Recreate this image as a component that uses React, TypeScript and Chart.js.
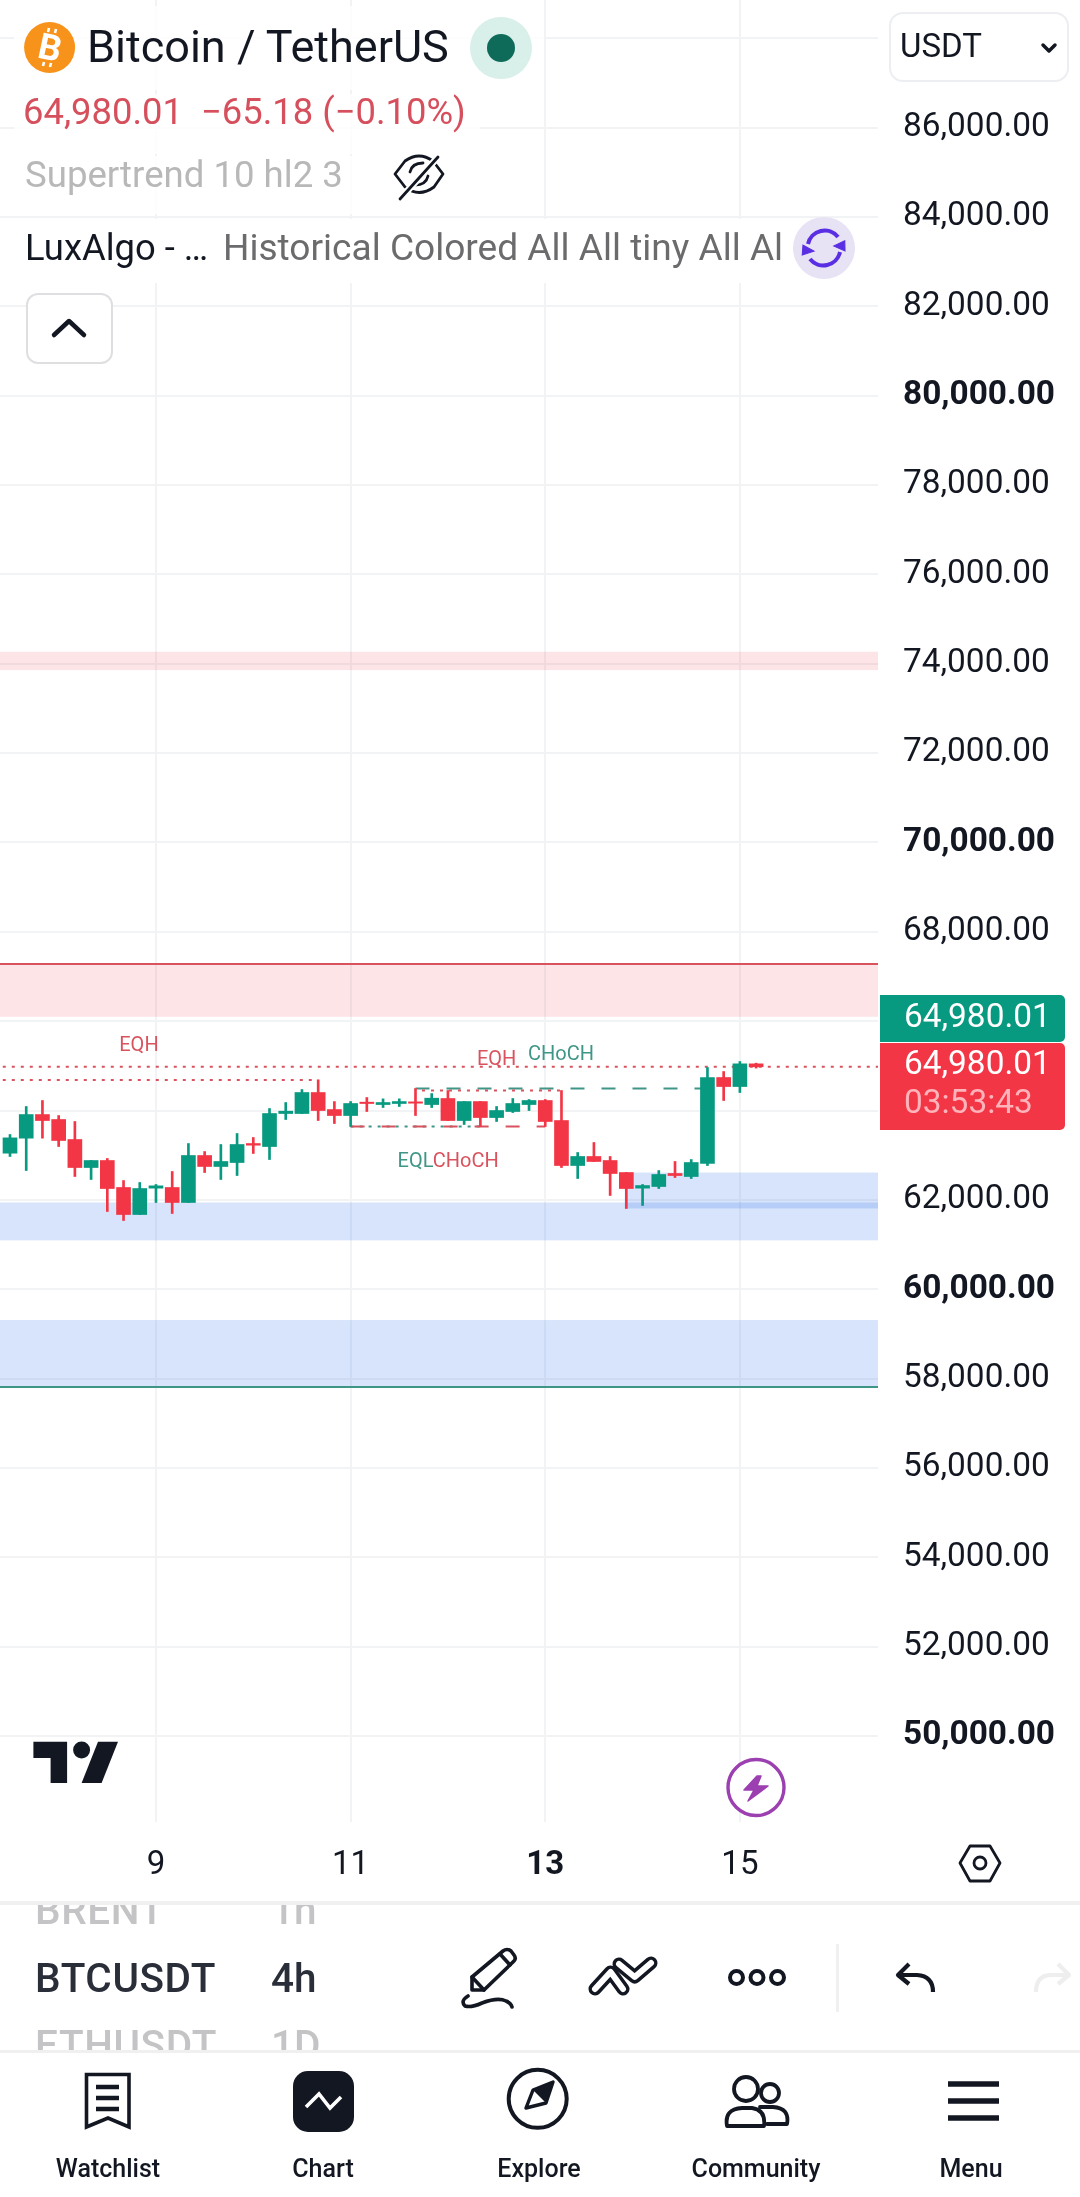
import React, { useEffect, useRef } from "react";
import { Chart, registerables } from "chart.js";

Chart.register(...registerables);

const barIndex = Array.from({ length: 47 }, (_, i) => i);
const opens = [63045,63381,63910,63799,63351,62724,62881,62277,61672,62262,62277,61941,62993,62747,62836,63261,63194,63933,63933,64403,64022,63888,64187,64134,64157,64194,64134,64269,63776,64201,63843,63978,64134,64224,63776,62769,62971,62881,62612,62262,62299,62590,62523,62814,64739,64537,65045];
const highs = [63463,64090,64224,63888,63754,62881,62926,62433,62389,62344,62635,63261,63082,63239,63485,63396,64045,64179,64470,64686,64201,64201,64291,64261,64261,64492,64380,64448,64201,64201,64090,64269,64246,64246,64448,63060,63284,62971,62612,62344,62657,62859,62903,64962,64873,65097,65060];
const lows = [62971,62657,63381,63194,62523,62456,61740,61538,61672,61941,61695,61941,62612,62456,62545,63038,62903,63799,63933,63776,63709,63642,63978,64067,64090,63888,64067,63776,63687,63642,63754,63955,64000,63642,62724,62478,62859,62098,61807,61874,62254,62500,62478,62769,64224,64403,64950];
const closes = [63388,63910,63776,63329,62724,62881,62254,61672,62254,62314,61941,62993,62747,62859,63239,63224,63933,63985,64403,64000,63888,64157,64157,64179,64201,64164,64276,63776,64201,63843,64000,64157,64224,63754,62769,62971,62859,62590,62254,62321,62568,62545,62836,64739,64537,65045,64980];

const dayTickBars = [9, 21, 33, 45];
const dayLabels = ["9", "11", "13", "15"];
const boldDay = "13";
const priceTicks = [50000,52000,54000,56000,58000,60000,62000,64000,66000,68000,70000,72000,74000,76000,78000,80000,82000,84000,86000,88000];
const hiddenPriceLabels = [64000, 66000, 88000];

const bandFromBars = [-1, -1, 37.9, -1, -1];
const bandToBars = [54, 54, 54, 54, 54];
const bandHighs = [74270, 67278, 62612, 61941, 59310];
const bandLows = [73860, 66098, 61807, 61093, 57810];
const bandKinds = ["red", "red", "blue", "blue", "blue"];

const lastPrice = 64980;
const resistanceTop = 67278;
const supportBottom = 57810;
const eqhLeft = { from: -1, to: 19, price: 64686 };
const eqhRight = { from: 25.4, to: 34, price: 64448 };
const chochUp = { from: 25, to: 43, price: 64492 };
const chochDown = { from: 21, to: 33, price: 63642 };
const eqlLine = { from: 21, to: 29, price: 63642 };

const chartTexts = [
  { text: "EQH", bar: 7.95, price: 65450, kind: "red" },
  { text: "EQH", bar: 30.0, price: 65130, kind: "red" },
  { text: "CHoCH", bar: 33.97, price: 65240, kind: "green" },
  { text: "EQL", bar: 25.0, price: 62850, kind: "green" },
  { text: "CHoCH", bar: 28.1, price: 62850, kind: "red" },
];

const UP = "#089981";
const DOWN = "#f23645";
const LINE_RED = "#d9535f";
const LINE_GREEN = "#3f9687";
const GRID = "#f2f3f5";
const INK = "#131722";
const FONT = "Roboto";

const seg = (s: { from: number; to: number; price: number }) => [
  { x: s.from, y: s.price },
  { x: s.to, y: s.price },
];

const overlayPlugin = {
  id: "overlay",
  beforeDatasetsDraw(chart: any) {
    const { ctx, scales } = chart;
    const xs = scales.x;
    const ys = scales.y;
    ctx.save();
    ctx.beginPath();
    ctx.rect(chart.chartArea.left, chart.chartArea.top, chart.chartArea.width, chart.chartArea.height);
    ctx.clip();
    bandHighs.forEach((hi, i) => {
      const x0 = xs.getPixelForValue(bandFromBars[i]);
      const x1 = xs.getPixelForValue(bandToBars[i]);
      const y0 = ys.getPixelForValue(hi);
      const y1 = ys.getPixelForValue(bandLows[i]);
      ctx.fillStyle = bandKinds[i] === "red" ? "rgba(242,54,69,0.13)" : "rgba(45,110,235,0.19)";
      ctx.fillRect(x0, y0, x1 - x0, y1 - y0);
    });
    ctx.restore();
  },
  afterDatasetsDraw(chart: any) {
    const { ctx, scales } = chart;
    ctx.save();
    ctx.font = `20px ${FONT}`;
    ctx.textAlign = "center";
    ctx.textBaseline = "middle";
    chartTexts.forEach((t) => {
      ctx.fillStyle = t.kind === "red" ? LINE_RED : LINE_GREEN;
      ctx.fillText(t.text, scales.x.getPixelForValue(t.bar), scales.y.getPixelForValue(t.price));
    });
    ctx.restore();
  },
};

function lineDs(data: any[], color: string, dash: number[], width = 2) {
  return {
    type: "line" as const,
    data,
    borderColor: color,
    borderWidth: width,
    borderDash: dash,
    pointRadius: 0,
    tension: 0,
    order: 5,
  };
}

function T(p: { x: number; b: number; s: number; c?: string; w?: number; anchor?: string; children: any; extra?: any }) {
  const transform = p.anchor === "middle" ? "translateX(-50%)" : undefined;
  return (
    <span
      style={{
        position: "absolute",
        left: p.x,
        top: p.b - 0.841 * p.s,
        fontSize: p.s,
        lineHeight: 1,
        fontFamily: FONT,
        color: p.c || INK,
        fontWeight: p.w || 400,
        whiteSpace: "pre",
        transform,
        ...(p.extra || {}),
      }}
    >
      {p.children}
    </span>
  );
}

function Box(p: { x: number; y: number; w: number; h: number; bg: string; r?: any; border?: string }) {
  return (
    <div
      style={{
        position: "absolute",
        left: p.x,
        top: p.y,
        width: p.w,
        height: p.h,
        background: p.bg,
        borderRadius: p.r || 0,
        border: p.border,
        boxSizing: "border-box",
      }}
    />
  );
}

function Icons() {
  const st = { fill: "none", stroke: INK, strokeWidth: 4, strokeLinecap: "round" as const, strokeLinejoin: "round" as const };
  return (
    <svg width={1080} height={2197} style={{ position: "absolute", left: 0, top: 0, pointerEvents: "none" }}>
      <circle cx={501} cy={48} r={31} fill="#d9efea" />
      <circle cx={501} cy={48} r={14} fill="#0e6b59" />
      <circle cx={49.6} cy={47.5} r={25.5} fill="#f7931a" />
      <path d="M48 32 L49 28 M55 33 L56 29 M44 62 L43 66 M51 63 L50 67" stroke="#fff" strokeWidth={2.6} fill="none" />
      <g fill="none" stroke={INK} strokeWidth={2.8} strokeLinecap="round" strokeLinejoin="round">
        <path d="M395 174 L405 161 Q419 151 433 161 L443 174 L434 187 Q419 198 405 187 Z" />
        <path d="M410 172 Q412 163 423 163 M428 176 Q426 185 415 185" />
        <path d="M400 199 L438 157" stroke="#fff" strokeWidth={7} />
        <path d="M400 199 L438 157" />
      </g>
      <circle cx={824} cy={248} r={31} fill="#e8e2f5" />
      <g fill="none" stroke="#5a2fe3" strokeWidth={4}>
        <path d="M808 244 A17 17 0 0 1 838 237" />
        <path d="M840 252 A17 17 0 0 1 810 259" />
        <path d="M844 240 L834 247 L846 250 Z" fill="#5a2fe3" strokeWidth={1} transform="rotate(10 840 245)" />
        <path d="M803 256 L814 250 L802 246 Z" fill="#5a2fe3" strokeWidth={1} transform="rotate(10 808 251)" />
      </g>
      <path d="M54 335 L69 321 L84 335" {...st} strokeWidth={4.5} />
      <path d="M1043 45 L1049 51 L1055 45" {...st} strokeWidth={3.5} />
      <path d="M33.4 1741.7 H67.1 V1783 H50.6 V1758 H33.4 Z" fill={INK} />
      <circle cx={81.6} cy={1750} r={8.5} fill={INK} />
      <path d="M98 1741.7 H118 L101.6 1783 H81.6 Z" fill={INK} />
      <circle cx={756} cy={1787.5} r={28} fill="#fff" stroke="#9c3fb0" strokeWidth={3.4} />
      <path d="M757 1776 L744 1790 L754 1790 L748 1801 L768 1786 L757 1786 L761 1776 Z" fill="#9c3fb0" stroke="#9c3fb0" strokeWidth={1.5} strokeLinejoin="round" />
      <path d="M970 1846 H990 L1000 1863 L990 1881 H970 L960 1863 Z" {...st} strokeWidth={2.8} />
      <circle cx={980} cy={1863} r={6} {...st} strokeWidth={2.8} />
      <g {...st} strokeWidth={3.6}>
        <path d="M472 1990 V1977 L503 1951 Q507 1948 511 1951 L514 1955 Q517 1959 513 1962 L484 1990 Z" />
        <path d="M472 1977 L484 1990" />
        <path d="M500 1954 L510 1965" />
        <path d="M468 1996 Q460 2001 465 2006 Q471 2008 482 2003 Q498 1997 506 2001 Q511 2003 512 2007" />
      </g>
      <path d="M595 1989 L610.6 1972 L623 1989" {...st} strokeWidth={13} />
      <path d="M595 1989 L610.6 1972 L623 1989" {...st} stroke="#fff" strokeWidth={6} />
      <path d="M619 1964 L634.7 1977 L651 1963" {...st} strokeWidth={13} />
      <path d="M619 1964 L634.7 1977 L651 1963" {...st} stroke="#fff" strokeWidth={6} />
      <g {...st} strokeWidth={4}>
        <circle cx={736.5} cy={1977.5} r={6.5} />
        <circle cx={757} cy={1977.5} r={6.5} />
        <circle cx={777.5} cy={1977.5} r={6.5} />
      </g>
      <path d="M909 1964 L898 1975 L909 1984 M899 1975 H917 Q933 1976 933 1992" {...st} strokeLinecap="butt" strokeWidth={4.2} />
      <path d="M1058 1964 L1069 1975 L1058 1984 M1068 1975 H1050 Q1036 1976 1036 1992" {...st} stroke="#eeeeee" strokeLinecap="butt" strokeWidth={4.2} />
      <path d="M86.5 2074.5 H129 V2127 L108 2118 L86.5 2127 Z" {...st} strokeLinecap="butt" strokeLinejoin="miter" strokeWidth={3.6} />
      <path d="M96 2087 H119 M96 2098 H119 M96 2109 H119" {...st} strokeLinecap="butt" strokeWidth={4.4} />
      <rect x={293} y={2071} width={61} height={61} rx={15} fill={INK} />
      <path d="M306 2107 L319 2094 L330 2108 L341 2097" fill="none" stroke="#fff" strokeWidth={3.6} />
      <circle cx={537.7} cy={2098.8} r={29} {...st} strokeWidth={4} />
      <path d="M526 2108 L533 2090 L553 2082 L546 2103 Z" {...st} strokeWidth={3.4} />
      <path d="M533 2090 L553 2082 L546 2103 Z" fill={INK} />
      <g {...st} strokeWidth={3.8}>
        <ellipse cx={746} cy={2089} rx={12} ry={12} />
        <circle cx={770} cy={2093} r={9} />
        <path d="M727 2126 Q724 2109 742 2108 H752 Q766 2110 764 2126 Z" />
        <path d="M767 2124 H787 Q790 2108 773 2107 H760" />
      </g>
      <path d="M948 2084 H999 M948 2101 H999 M948 2118 H999" {...st} strokeLinecap="butt" strokeWidth={5.4} />
    </svg>
  );
}

export default function App() {
  const ref = useRef<HTMLCanvasElement | null>(null);
  useEffect(() => {
    document.body.style.margin = "0";
    const chart = new Chart(ref.current as HTMLCanvasElement, {
      type: "bar",
      data: {
        datasets: [
          {
            label: "body",
            data: barIndex.map((i) => ({ x: i, y: [opens[i], closes[i]] })),
            backgroundColor: barIndex.map((i) => (closes[i] >= opens[i] ? UP : DOWN)),
            barThickness: 14,
            grouped: false,
            order: 1,
          },
          {
            label: "wick",
            data: barIndex.map((i) => ({ x: i, y: [lows[i], highs[i]] })),
            backgroundColor: barIndex.map((i) => (closes[i] >= opens[i] ? UP : DOWN)),
            barThickness: 2,
            grouped: false,
            order: 2,
          },
          lineDs([{ x: -1, y: lastPrice }, { x: 54, y: lastPrice }], LINE_RED, [3, 6]),
          lineDs(seg(eqhLeft), LINE_RED, [3, 6]),
          lineDs(seg(eqhRight), LINE_RED, [3, 6]),
          lineDs(seg(chochUp), LINE_GREEN, [14, 17]),
          lineDs(seg(chochDown), LINE_RED, [14, 17]),
          lineDs(seg(eqlLine), LINE_GREEN, [3, 6]),
          lineDs([{ x: -1, y: resistanceTop }, { x: 54, y: resistanceTop }], LINE_RED, []),
          lineDs([{ x: -1, y: supportBottom }, { x: 54, y: supportBottom }], LINE_GREEN, []),
        ] as any,
      },
      options: {
        animation: false,
        responsive: false,
        devicePixelRatio: 1,
        layout: { padding: 0, autoPadding: false },
        plugins: { legend: { display: false }, tooltip: { enabled: false } },
        scales: {
          x: {
            type: "linear",
            min: -0.6165,
            max: 53.515,
            offset: false,
            grid: { color: GRID, lineWidth: 2, drawTicks: false, offset: false },
            border: { display: false },
            afterBuildTicks: (s: any) => {
              s.ticks = dayTickBars.map((v) => ({ value: v }));
            },
            afterFit: (s: any) => {
              s.height = 78;
              s.paddingLeft = 0;
              s.paddingRight = 0;
            },
            ticks: {
              autoSkip: false,
              maxRotation: 0,
              padding: 24,
              color: INK,
              font: (c: any) => ({
                family: FONT,
                size: 33,
                weight: dayLabels[dayTickBars.indexOf(c.tick?.value)] === boldDay ? "700" : "400",
              }),
              callback: (v: any) => dayLabels[dayTickBars.indexOf(v)] ?? "",
            },
          },
          y: {
            type: "linear",
            position: "right",
            min: 48073,
            max: 88860,
            beginAtZero: false,
            grid: { color: GRID, lineWidth: 2, drawTicks: false },
            border: { display: false },
            afterBuildTicks: (s: any) => {
              s.ticks = priceTicks.map((v) => ({ value: v }));
            },
            afterFit: (s: any) => {
              s.width = 202;
              s.paddingTop = 0;
              s.paddingBottom = 0;
            },
            ticks: {
              autoSkip: false,
              padding: 25,
              crossAlign: "near",
              labelOffset: 0,
              color: INK,
              font: (c: any) => ({
                family: FONT,
                size: 33.4,
                weight: c.tick && c.tick.value % 10000 === 0 ? "700" : "400",
              }),
              callback: (v: any) =>
                hiddenPriceLabels.includes(v)
                  ? ""
                  : Number(v).toLocaleString("en-US", { minimumFractionDigits: 2, maximumFractionDigits: 2 }),
            },
          },
        },
      } as any,
      plugins: [overlayPlugin as any],
    });
    return () => chart.destroy();
  }, []);

  return (
    <div style={{ position: "absolute", left: 0, top: 0, width: 1080, height: 2197, overflow: "hidden", background: "#fff" }}>
      <canvas ref={ref} width={1080} height={1900} style={{ position: "absolute", left: 0, top: 0, display: "block" }} />

      <Box x={14} y={6} w={530} h={84} bg="rgba(255,255,255,0.8)" />
      <Box x={14} y={94} w={466} h={60} bg="rgba(255,255,255,0.8)" />
      <Box x={14} y={156} w={446} h={58} bg="rgba(255,255,255,0.8)" />
      <Box x={0} y={219} w={866} h={64} bg="#fff" />
      <Box x={26} y={293} w={87} h={71} bg="#fff" r={12} border="2px solid #dfdfe2" />
      <Box x={889} y={12} w={180} h={70} bg="#fff" r={14} border="2px solid #eceef2" />

      <Box x={880} y={995} w={185} h={47} bg={UP} r="0 5px 5px 0" />
      <Box x={880} y={1043} w={185} h={87} bg={DOWN} r="0 5px 5px 0" />

      <Box x={0} y={1901} w={1080} h={4} bg="#f0f0f1" />
      <Box x={0} y={2050} w={1080} h={3} bg="#f0f0f1" />
      <Box x={836} y={1944} w={2.5} h={68} bg="#f0f0f1" />

      <Icons />

      <T x={49.6} b={60.5} s={36} c="#fff" w={700} anchor="middle" extra={{ transform: "translateX(-50%) rotate(12deg)" }}>B</T>
      <T x={87} b={61.7} s={45}>Bitcoin / TetherUS</T>
      <T x={23} b={124.5} s={36.4} c="#d64f5c">{"64,980.01  \u221265.18 (\u22120.10%)"}</T>
      <T x={25} b={187.5} s={36.6} c="#b8b8b8">Supertrend 10 hl2 3</T>
      <T x={25} b={260.5} s={36.4}>{"LuxAlgo - \u2026"}</T>
      <div style={{ position: "absolute", left: 223, top: 219, width: 558, height: 62, overflow: "hidden" }}>
        <T x={0} b={41.5} s={37.1} c="#6b6b6e">Historical Colored All All tiny All All</T>
      </div>
      <T x={900} b={57} s={33}>USDT</T>

      <T x={904} b={1026.7} s={33.4} c="#fff">64,980.01</T>
      <T x={904} b={1074} s={33.4} c="#fff">64,980.01</T>
      <T x={904} b={1112.7} s={33.4} c="#ffb3ba">03:53:43</T>

      <div style={{ position: "absolute", left: 0, top: 1905, width: 460, height: 145, overflow: "hidden" }}>
        <T x={35} b={19} s={40.5} c="#c4c4c6" w={500} extra={{ letterSpacing: 0.6 }}>BRENT</T>
        <T x={271} b={19} s={40.5} c="#c4c4c6" w={500}>1h</T>
        <T x={35} b={87} s={40.5} c="#2a2e39" w={500} extra={{ letterSpacing: 0.6 }}>BTCUSDT</T>
        <T x={271} b={87} s={40.5} c="#2a2e39" w={500}>4h</T>
        <T x={35} b={154} s={40.5} c="#c4c4c6" w={500} extra={{ letterSpacing: 0.6 }}>ETHUSDT</T>
        <T x={271} b={154} s={40.5} c="#c4c4c6" w={500}>1D</T>
      </div>

      <T x={108} b={2177} s={25} w={500} anchor="middle">Watchlist</T>
      <T x={323} b={2177} s={25} w={500} anchor="middle">Chart</T>
      <T x={539} b={2177} s={25} w={500} anchor="middle">Explore</T>
      <T x={756} b={2177} s={25} w={500} anchor="middle">Community</T>
      <T x={971} b={2177} s={25} w={500} anchor="middle">Menu</T>
    </div>
  );
}
